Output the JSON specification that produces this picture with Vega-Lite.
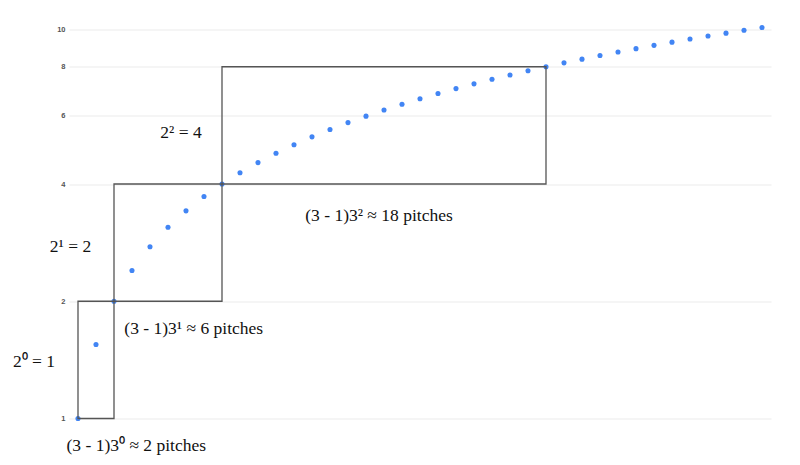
{
  "$schema": "https://vega.github.io/schema/vega-lite/v6.json",
  "width": 702,
  "height": 391,
  "autosize": "none",
  "padding": {"left": 69, "top": 27.5, "right": 29, "bottom": 46.5},
  "background": "white",
  "config": {"view": {"stroke": null}},
  "datasets": {
    "points": [
      {"i": 0, "v": 1.0}, {"i": 1, "v": 1.5486}, {"i": 2, "v": 2.0}, {"i": 3, "v": 2.3981},
      {"i": 4, "v": 2.7605}, {"i": 5, "v": 3.0972}, {"i": 6, "v": 3.4134}, {"i": 7, "v": 3.7137},
      {"i": 8, "v": 4.0}, {"i": 9, "v": 4.2749}, {"i": 10, "v": 4.5398}, {"i": 11, "v": 4.7961},
      {"i": 12, "v": 5.0446}, {"i": 13, "v": 5.2863}, {"i": 14, "v": 5.5214}, {"i": 15, "v": 5.7508},
      {"i": 16, "v": 5.9747}, {"i": 17, "v": 6.1945}, {"i": 18, "v": 6.4093}, {"i": 19, "v": 6.6204},
      {"i": 20, "v": 6.8274}, {"i": 21, "v": 7.0305}, {"i": 22, "v": 7.2308}, {"i": 23, "v": 7.4278},
      {"i": 24, "v": 7.6213}, {"i": 25, "v": 7.8118}, {"i": 26, "v": 8.0}, {"i": 27, "v": 8.186},
      {"i": 28, "v": 8.369}, {"i": 29, "v": 8.5499}, {"i": 30, "v": 8.7288}, {"i": 31, "v": 8.9052},
      {"i": 32, "v": 9.0797}, {"i": 33, "v": 9.2529}, {"i": 34, "v": 9.4229}, {"i": 35, "v": 9.5921},
      {"i": 36, "v": 9.7595}, {"i": 37, "v": 9.9249}, {"i": 38, "v": 10.089}
    ],
    "boxes": [
      {"x0": 0, "x1": 2, "y0": 1, "y1": 2},
      {"x0": 2, "x1": 8, "y0": 2, "y1": 4},
      {"x0": 8, "x1": 26, "y0": 4, "y1": 8}
    ],
    "labels": [
      {"tx": -2.444, "ty": 1.3535, "label": "2⁰ = 1"},
      {"tx": 3.239, "ty": 0.8252, "label": "(3 - 1)3⁰ ≈ 2 pitches"},
      {"tx": 6.428, "ty": 1.648, "label": "(3 - 1)3¹ ≈ 6 pitches"},
      {"tx": -0.417, "ty": 2.6807, "label": "2¹ = 2"},
      {"tx": 5.722, "ty": 5.25, "label": "2² = 4"},
      {"tx": 16.722, "ty": 3.2142, "label": "(3 - 1)3² ≈ 18 pitches"}
    ]
  },
  "layer": [
    {
      "data": {"name": "points"},
      "mark": {"type": "circle", "size": 26, "color": "#4285F4", "opacity": 1},
      "encoding": {
        "x": {"field": "i", "type": "quantitative", "scale": {"domain": [-0.5, 38.5], "nice": false, "zero": false}, "axis": null},
        "y": {
          "field": "v", "type": "quantitative",
          "scale": {"type": "log", "domain": [1, 10.09], "nice": false},
          "axis": {
            "title": null, "values": [1, 2, 4, 6, 8, 10], "format": "d",
            "domain": false, "ticks": false, "labelPadding": 4,
            "labelFont": "Liberation Sans", "labelFontSize": 7.5, "labelFontWeight": "bold",
            "labelColor": "#555555", "grid": true, "gridColor": "#ebebeb", "gridWidth": 1.2
          }
        }
      }
    },
    {
      "data": {"name": "boxes"},
      "mark": {"type": "rect", "fill": "transparent", "stroke": "#555555", "strokeWidth": 1.3},
      "encoding": {
        "x": {"field": "x0", "type": "quantitative"},
        "x2": {"field": "x1"},
        "y": {"field": "y0", "type": "quantitative"},
        "y2": {"field": "y1"}
      }
    },
    {
      "data": {"name": "labels"},
      "mark": {"type": "text", "font": "Liberation Serif", "fontSize": 17.5, "color": "#111111", "align": "center", "baseline": "alphabetic"},
      "encoding": {
        "x": {"field": "tx", "type": "quantitative"},
        "y": {"field": "ty", "type": "quantitative"},
        "text": {"field": "label"}
      }
    }
  ]
}
